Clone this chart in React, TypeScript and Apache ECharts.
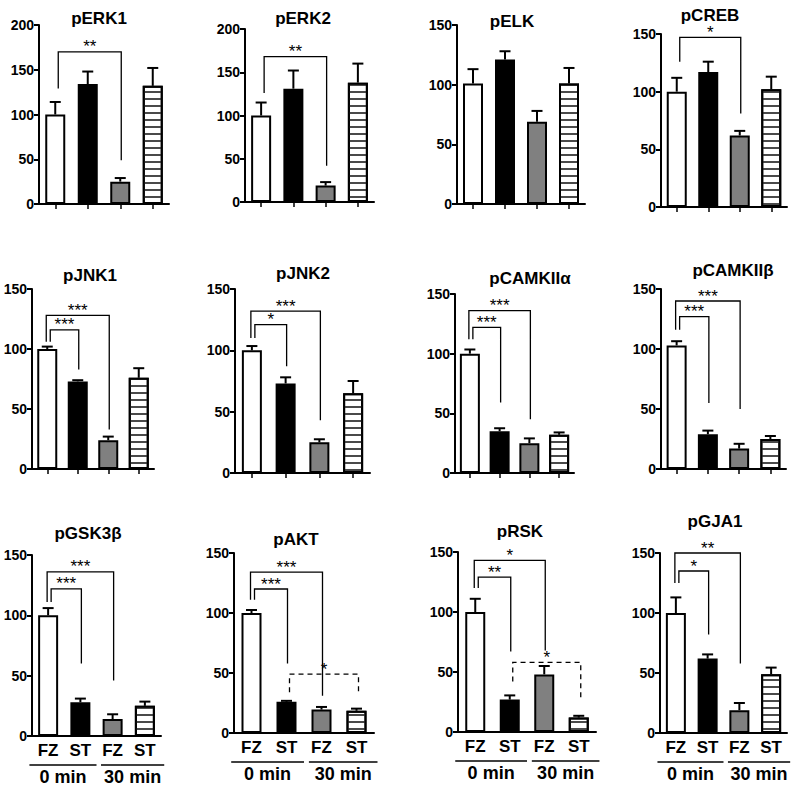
import React, { useEffect, useRef } from "react";
import * as echarts from "echarts";

// ---------- data ----------
const titles = ["pERK1", "pERK2", "pELK", "pCREB", "pJNK1", "pJNK2", "pCAMKIIα", "pCAMKIIβ", "pGSK3β", "pAKT", "pRSK", "pGJA1"];
const groups = ["FZ", "ST", "FZ", "ST"];
const timeLabels = ["0 min", "30 min"];
const yMax = [200, 200, 150, 150, 150, 150, 150, 150, 150, 150, 150, 150];
const yInterval = 50;

const means = [
  [100, 134, 25, 132],
  [100, 131, 19, 138],
  [101, 121, 69, 101],
  [100, 117, 62, 102],
  [100, 73, 24, 76],
  [100, 73, 25, 65],
  [100, 35, 25, 32],
  [103, 29, 17, 25],
  [100, 28, 14, 25],
  [100, 26, 19.5, 18.5],
  [100, 27, 48, 12],
  [100, 62, 19, 49],
];
const sems = [
  [14, 14, 4, 20],
  [15, 21, 4, 22],
  [12, 7, 9, 13],
  [12, 9, 4, 11],
  [2, 1, 3, 8],
  [3.5, 5, 2.5, 10],
  [3.5, 2.5, 4, 2],
  [3.5, 3, 4, 2.5],
  [6, 3, 4, 3.5],
  [2.5, 0.8, 2.2, 1.8],
  [11, 3.5, 7, 1.5],
  [13, 3.5, 6, 5.5],
];
// [fromBar, toBar, leftFootValue, topValue, rightFootValue, stars, dashed, outer]
const brackets: any[][][] = [
  [[0, 2, 129, 170, 49, "**", 0, 0]],
  [[0, 2, 126, 168, 42, "**", 0, 0]],
  [],
  [[0, 2, 126, 147, 81, "*", 0, 0]],
  [[0, 1, 106, 116, 83, "***", 0, 0], [0, 2, 106, 128, 33, "***", 0, 1]],
  [[0, 1, 110, 121, 87, "*", 0, 0], [0, 2, 110, 132, 43, "***", 0, 1]],
  [[0, 1, 112, 122, 59, "***", 0, 0], [0, 2, 112, 136, 45, "***", 0, 1]],
  [[0, 1, 116, 127, 55, "***", 0, 0], [0, 2, 116, 140, 50, "***", 0, 1]],
  [[0, 1, 111, 122, 60, "***", 0, 0], [0, 2, 111, 136, 46, "***", 0, 1]],
  [[0, 1, 111, 120, 58, "***", 0, 0], [0, 2, 111, 134, 31, "***", 0, 1], [1, 3, 34, 49, 34, "*", 1, 0]],
  [[0, 1, 120, 129, 67, "**", 0, 0], [0, 2, 120, 143, 68, "*", 0, 1], [1, 3, 42, 58, 28, "*", 1, 0]],
  [[0, 1, 125, 135, 82, "*", 0, 0], [0, 2, 125, 150, 58, "**", 0, 1]],
];

// ---------- layout ----------
// [left, top, width, height]
const panelBoxes = [
  [39, 25, 130, 179],
  [245, 29, 129, 173],
  [457, 25, 128, 179],
  [661, 34, 126, 173],
  [32, 289, 122, 180],
  [235, 289, 135, 184],
  [455, 294, 119, 179],
  [661, 289, 125, 180],
  [32, 555, 129, 181],
  [234, 553, 140, 180],
  [458, 552, 138, 180],
  [660, 553, 127, 180],
];
const titlePos = [
  [99, 18], [303, 18], [512, 21], [710, 15],
  [90, 275], [303, 273], [530, 278], [733, 270],
  [88, 533], [296, 539], [520, 531], [715, 521],
];

const FONT = '"Liberation Sans", Arial, sans-serif';

const barStyles: any[] = [
  { color: "#ffffff", borderColor: "#000", borderWidth: 2 },
  { color: "#000000", borderColor: "#000", borderWidth: 2 },
  { color: "#808080", borderColor: "#000", borderWidth: 2 },
  {
    color: "#ffffff",
    borderColor: "#000",
    borderWidth: 2,
    decal: {
      symbol: "rect",
      symbolSize: 1,
      dashArrayX: [1, 0],
      dashArrayY: [1.2, 4.3],
      color: "#4a4a4a",
      rotation: 0,
    },
  },
];

function buildOption() {
  const grid: any[] = [];
  const xAxis: any[] = [];
  const yAxis: any[] = [];
  const series: any[] = [];

  titles.forEach((_, p) => {
    const [l, t, w, h] = panelBoxes[p];
    const row = Math.floor(p / 4);
    grid.push({ left: l, top: t, width: w, height: h, containLabel: false });
    xAxis.push({
      gridIndex: p,
      type: "category",
      data: groups,
      axisLine: { show: true, lineStyle: { color: "#000", width: 2 } },
      axisTick: { show: row < 2, alignWithLabel: true, length: 5, lineStyle: { color: "#000", width: 1.5 } },
      axisLabel: {
        show: row === 2,
        color: "#000",
        fontWeight: "bold",
        fontSize: 17,
        fontFamily: FONT,
        margin: 6,
      },
      splitLine: { show: false },
    });
    yAxis.push({
      gridIndex: p,
      type: "value",
      min: 0,
      max: yMax[p],
      interval: yInterval,
      axisLine: { show: true, lineStyle: { color: "#000", width: 2 } },
      axisTick: { show: true, length: 5, lineStyle: { color: "#000", width: 2 } },
      axisLabel: { color: "#000", fontWeight: "bold", fontSize: 14, fontFamily: FONT, margin: 5 },
      splitLine: { show: false },
    });

    series.push({
      type: "bar",
      xAxisIndex: p,
      yAxisIndex: p,
      barWidth: 20,
      silent: true,
      data: means[p].map((v, i) => ({ value: v, itemStyle: barStyles[i] })),
    });

    series.push({
      type: "custom",
      xAxisIndex: p,
      yAxisIndex: p,
      silent: true,
      z: 3,
      encode: { x: 0, y: 2 },
      data: means[p].map((m, i) => [i, m, m + sems[p][i]]),
      renderItem: (params: any, api: any) => {
        const base = api.coord([api.value(0), api.value(1)]);
        const top = api.coord([api.value(0), api.value(2)]);
        return {
          type: "group",
          children: [
            { type: "line", shape: { x1: base[0], y1: base[1], x2: top[0], y2: top[1] }, style: { stroke: "#000", lineWidth: 2 } },
            { type: "line", shape: { x1: top[0] - 5.5, y1: top[1], x2: top[0] + 5.5, y2: top[1] }, style: { stroke: "#000", lineWidth: 2 } },
          ],
        };
      },
    });

    if (brackets[p].length) {
      series.push({
        type: "custom",
        xAxisIndex: p,
        yAxisIndex: p,
        silent: true,
        z: 4,
        encode: { x: 0, y: 1 },
        data: brackets[p].map((b) => [b[0], b[3], b[1]]),
        renderItem: (params: any, api: any) => {
          const [a, c, yl, yt, yr, lab, dashed, outer] = brackets[p][params.dataIndex];
          const lx = api.coord([a, yt])[0] + (dashed ? 3 : outer ? -1 : 3);
          const rx = api.coord([c, yt])[0] + (dashed ? 2 : 1);
          const ty = api.coord([a, yt])[1];
          const ly = api.coord([a, yl])[1];
          const ry = api.coord([c, yr])[1];
          return {
            type: "group",
            children: [
              {
                type: "polyline",
                shape: { points: [[lx, ly], [lx, ty], [rx, ty], [rx, ry]] },
                style: { stroke: "#000", lineWidth: 1.3, fill: null, lineDash: dashed ? [5, 4] : null },
              },
              {
                type: "text",
                x: (lx + rx) / 2,
                y: ty - 5,
                style: {
                  text: lab,
                  x: 0,
                  y: 0,
                  font: "17px " + FONT,
                  fill: "#000",
                  textAlign: "center",
                  textVerticalAlign: "middle",
                  align: "center",
                  verticalAlign: "middle",
                },
              },
            ],
          };
        },
      });
    }

    if (row === 2) {
      series.push({
        type: "custom",
        xAxisIndex: p,
        yAxisIndex: p,
        silent: true,
        z: 4,
        encode: { x: 0, y: 1 },
        data: [[0, 0, 1], [2, 0, 3]],
        renderItem: (params: any, api: any) => {
          const first = params.dataIndex === 0;
          const p0 = api.coord([api.value(0), 0]);
          const p1 = api.coord([api.value(2), 0]);
          const band = api.size([1, 0])[0];
          const x1 = p0[0] - band * (first ? 0.58 : 0.36);
          const x2 = p1[0] + band * (first ? 0.5 : 0.6);
          const ly = p0[1] + 29;
          return {
            type: "group",
            children: [
              { type: "line", shape: { x1, y1: ly, x2, y2: ly }, style: { stroke: "#000", lineWidth: 1.5 } },
              {
                type: "text",
                x: (x1 + x2) / 2,
                y: ly + 12,
                style: {
                  text: timeLabels[params.dataIndex],
                  x: 0,
                  y: 0,
                  font: "bold 18px " + FONT,
                  fill: "#000",
                  textAlign: "center",
                  textVerticalAlign: "middle",
                  align: "center",
                  verticalAlign: "middle",
                },
              },
            ],
          };
        },
      });
    }
  });

  const graphic = titles.map((t, i) => ({
    type: "text",
    x: titlePos[i][0],
    y: titlePos[i][1],
    silent: true,
    style: {
      text: t,
      font: "bold 17px " + FONT,
      fill: "#000",
      textAlign: "center",
      textVerticalAlign: "middle",
      align: "center",
      verticalAlign: "middle",
    },
  }));

  return {
    animation: false,
    backgroundColor: "#ffffff",
    grid,
    xAxis,
    yAxis,
    series,
    graphic,
  };
}

export default function App() {
  const ref = useRef<HTMLDivElement>(null);
  useEffect(() => {
    if (!ref.current) return;
    const chart = echarts.init(ref.current, null, { renderer: "svg" });
    chart.setOption(buildOption() as any);
    return () => chart.dispose();
  }, []);
  return (
    <div
      ref={ref}
      style={{ position: "fixed", left: 0, top: 0, width: 800, height: 786, background: "#fff" }}
    />
  );
}
